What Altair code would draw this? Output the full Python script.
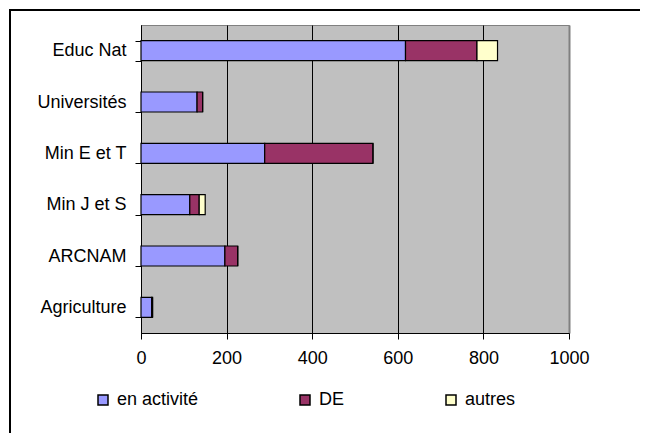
import altair as alt
import pandas as pd

categories = ["Educ Nat", "Universités", "Min E et T", "Min J et S", "ARCNAM", "Agriculture"]
series = ["en activité", "DE", "autres"]
en_activite = [618, 131, 289, 114, 196, 25]
de = [167, 13, 253, 22, 30, 2]
autres = [48, 0, 0, 14, 0, 0]
x_ticks = [0, 200, 400, 600, 800, 1000]
colors = ["#9999FF", "#993366", "#FFFFCC"]

rows = []
for i, c in enumerate(categories):
    for j, (s, vals) in enumerate(zip(series, [en_activite, de, autres])):
        rows.append({"cat": c, "serie": s, "val": vals[i], "ord": j})
df = pd.DataFrame(rows)

FONT = "Liberation Sans"

border = alt.Chart(pd.DataFrame({"a": [0]})).mark_rect(
    filled=False, stroke="black", strokeWidth=2, clip=False
).encode(
    x=alt.value(-131), x2=alt.value(700), y=alt.value(-15), y2=alt.value(700)
)

bars = alt.Chart(df).mark_bar(stroke="black", strokeWidth=1.2).encode(
    x=alt.X("val:Q", stack="zero",
            scale=alt.Scale(domain=[0, 1000], nice=False),
            axis=alt.Axis(values=x_ticks, title=None, grid=True, format="d",
                          gridColor=alt.condition("datum.value == 1000", alt.value("#808080"), alt.value("black")),
                          gridWidth=alt.condition("datum.value == 1000", alt.value(2), alt.value(1)),
                          domainColor="black", tickColor="black", tickSize=6,
                          labelFontSize=18, labelFont=FONT, labelColor="black",
                          labelPadding=10, labelFlush=False)),
    y=alt.Y("cat:N", sort=categories,
            scale=alt.Scale(paddingInner=0.61, paddingOuter=0.305),
            axis=alt.Axis(title=None, tickBand="extent", domainColor="black",
                          tickColor="black", tickSize=6, labelFontSize=18,
                          labelFont=FONT, labelColor="black", labelPadding=9)),
    color=alt.Color("serie:N", sort=series,
                    scale=alt.Scale(domain=series, range=colors),
                    legend=alt.Legend(title=None, orient="none", direction="horizontal",
                                      columns=3, legendX=-47, legendY=366,
                                      symbolType="square", symbolSize=100,
                                      symbolStrokeColor="black", symbolStrokeWidth=1.5,
                                      symbolOpacity=1, padding=0,
                                      labelFontSize=18, labelFont=FONT, labelColor="black",
                                      labelOffset=5, columnPadding=97, gridAlign="none")),
    order=alt.Order("ord:Q")
)

chart = alt.layer(border, bars).properties(
    width=428, height=308,
    autosize=alt.AutoSizeParams(type="none"),
    padding={"left": 133, "top": 17, "right": 71, "bottom": 100},
    background="white"
).configure_view(
    fill="#C0C0C0", stroke="#808080", strokeWidth=1
)

chart.save("out.html", embed_options={"renderer": "svg", "actions": False})
